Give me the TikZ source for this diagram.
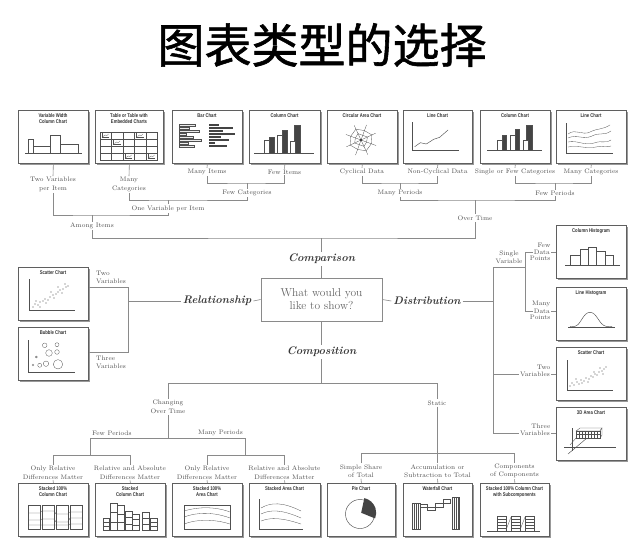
\documentclass[tikz,border=0pt]{standalone}
\usepackage{fontspec}
\newfontfamily\cjkfont{Noto Sans CJK SC}[FakeBold=1.2]
\newfontfamily\boxfont{Liberation Sans}[FakeStretch=0.78]
\usetikzlibrary{shadows}
\definecolor{ln}{HTML}{8A8A8A}
\definecolor{txt}{HTML}{505050}
\definecolor{catc}{HTML}{383838}
\definecolor{bx}{HTML}{5F5F5F}
\definecolor{ink}{HTML}{505050}
\definecolor{dk}{HTML}{444444}
\newcommand{\lblf}{\fontsize{6.5}{8.5}\selectfont}
\begin{document}
\begin{tikzpicture}[x=1pt,y=-1pt,
 conn/.style={draw=ln,line width=0.6pt},
 lbl/.style={font=\lblf,text=txt,inner sep=1pt,align=center},
 catlbl/.style={font=\fontsize{11}{13}\selectfont\bfseries\itshape,text=catc,inner sep=2pt},
 cbox/.style={draw=bx,line width=0.75pt,fill=white,minimum height=53,inner sep=0,anchor=north west,
   drop shadow={shadow xshift=1.5pt,shadow yshift=-1.5pt,fill=black!40,opacity=1}},
 btitle/.style={font=\boxfont\bfseries\fontsize{5.4}{6.6}\selectfont,text=black!80,align=center,inner sep=0,anchor=north},
 cl/.style={draw=ink,line width=0.45pt},
 thin/.style={draw=ink,line width=0.3pt},
]
\useasboundingbox[fill=white] (0,0) rectangle (642,543);

% title
\node[font=\cjkfont\fontsize{47}{47}\selectfont,text=black] (title) at (322,45) {图表类型的选择};

% ---------- boxes ----------
\node[cbox,minimum width=70] (B1) at (18,110) {};
\node[cbox,minimum width=68] (B2) at (95,110) {};
\node[cbox,minimum width=70] (B3) at (172,110) {};
\node[cbox,minimum width=71] (B4) at (249,110) {};
\node[cbox,minimum width=70] (B5) at (327,110) {};
\node[cbox,minimum width=69] (B6) at (403,110) {};
\node[cbox,minimum width=70] (B7) at (480,110) {};
\node[cbox,minimum width=70] (B8) at (556,110) {};
\node[cbox,minimum width=70] (S1) at (18,267) {};
\node[cbox,minimum width=70] (S2) at (18,327) {};
\node[cbox,minimum width=70] (H1) at (556,225) {};
\node[cbox,minimum width=70] (H2) at (556,287) {};
\node[cbox,minimum width=70] (H3) at (556,347) {};
\node[cbox,minimum width=70] (H4) at (556,407) {};
\node[cbox,minimum width=70] (C1) at (18,483) {};
\node[cbox,minimum width=70] (C2) at (95,483) {};
\node[cbox,minimum width=70] (C3) at (172,483) {};
\node[cbox,minimum width=71] (C4) at (249,483) {};
\node[cbox,minimum width=68] (C5) at (327,483) {};
\node[cbox,minimum width=69] (C6) at (403,483) {};
\node[cbox,minimum width=69] (C7) at (480,483) {};

% ---------- box contents ----------
\begin{scope}[shift={(B1.north west)}]
\node[btitle] (tB1) at (35,3) {Variable Width\\Column Chart};
\draw[cl] (7,43) -- (64,43);
\draw[cl] (10,43) -- (10,29) -- (15,29) -- (15,43);
\draw[cl] (15,36) -- (32,36) -- (32,25) -- (42,25) -- (42,34) -- (60,34) -- (60,43);
\draw[cl] (32,36) -- (32,43); \draw[cl] (42,34) -- (42,43);
\end{scope}

\begin{scope}[shift={(B2.north west)}]
\node[btitle] (tB2) at (34,3) {Table or Table with\\Embedded Charts};
\foreach \xx in {5,16.5,28,39.5,51,62.5} \draw[thin] (\xx,22) -- (\xx,50);
\foreach \yy in {22,29,36,43,50} \draw[thin] (5,\yy) -- (62.5,\yy);
\foreach \cx/\cy in {7/23,18.5/30,41.5/23,30/44,53/44}{
 \draw[draw=ink,line width=0.25pt] (\cx,\cy) -- (\cx,\cy+4.5) -- (\cx+7,\cy+4.5);
 \draw[draw=ink,line width=0.25pt] (\cx+1,\cy+3.5) -- (\cx+3,\cy+2) -- (\cx+5,\cy+2.5) -- (\cx+6.5,\cy+1);
}
\end{scope}

\begin{scope}[shift={(B3.north west)}]
\node[btitle] (tB3) at (35,3) {Bar Chart};
\foreach \i/\l in {0/16,1/10,2/20,3/7,4/14,5/22,6/9,7/15}
 \draw[thin,fill=gray!15] (7,14+\i*3) rectangle (7+\l,15.8+\i*3);
\foreach \i/\l in {0/10,1/24,2/14,3/26,4/12,5/20,6/6,7/18}
 \fill[dk] (37,14+\i*3) rectangle (37+\l,16.3+\i*3);
\end{scope}

\begin{scope}[shift={(B4.north west)}]
\node[btitle] (tB4) at (35.5,3) {Column Chart};
\draw[cl] (5,43) -- (65,43);
\draw[cl,fill=white] (15,30) rectangle (20,43); \draw[cl,fill=dk] (20,27) rectangle (25,43);
\draw[cl,fill=white] (28,25) rectangle (33,43); \draw[cl,fill=dk] (33,20) rectangle (38,43);
\draw[cl,fill=dk] (45,15) rectangle (51,43); \draw[cl,fill=white] (41,31) rectangle (46,43);
\end{scope}

\begin{scope}[shift={(B5.north west)}]
\node[btitle] (tB5) at (35,3) {Circular Area Chart};
\begin{scope}[shift={(34,30)}]
\foreach \a in {0,45,...,315} \draw[thin] (0,0) -- (\a+20:16);
\draw[thin] (20:6) -- (65:7) -- (110:5) -- (155:7) -- (200:6) -- (245:7) -- (290:5) -- (335:7) -- cycle;
\draw[thin] (20:11) -- (65:12) -- (110:10) -- (155:12) -- (200:11) -- (245:12) -- (290:10) -- (335:12) -- cycle;
\fill[dk] (-1.3,-1.3) rectangle (1.3,1.3);
\end{scope}
\end{scope}

\begin{scope}[shift={(B6.north west)}]
\node[btitle] (tB6) at (34.5,3) {Line Chart};
\draw[cl] (9,12) -- (9,40) -- (56,40);
\draw[cl] (11.7,36.7) -- (17.3,32.7) -- (23.3,34) -- (30.7,29.3) -- (36.7,27.3) -- (45,20);
\end{scope}

\begin{scope}[shift={(B7.north west)}]
\node[btitle] (tB7) at (35,3) {Column Chart};
\draw[cl] (7,40) -- (62,40);
\draw[cl,fill=white] (17.3,30) rectangle (22.3,40); \draw[cl,fill=dk] (22.3,25) rectangle (26.7,40);
\draw[cl,fill=white] (30,25) rectangle (35,40); \draw[cl,fill=dk] (35,19.3) rectangle (39.7,40);
\draw[cl,fill=dk] (46.7,15) rectangle (52.5,40); \draw[cl,fill=white] (43.5,30) rectangle (48.5,40);
\end{scope}

\begin{scope}[shift={(B8.north west)}]
\node[btitle] (tB8) at (35,3) {Line Chart};
\draw[cl] (10.7,13) -- (10.7,43) -- (57,43);
\draw[thin] (12,24) .. controls (20,18) and (26,26) .. (34,22) .. controls (42,18) and (46,20) .. (54,15);
\draw[thin] (12,28) .. controls (20,24) and (28,30) .. (36,26) .. controls (44,22) and (48,26) .. (55,21);
\draw[thin] (12,32) .. controls (22,30) and (28,36) .. (38,33) .. controls (46,30) and (50,34) .. (55,30);
\draw[thin] (12,37) .. controls (22,35) and (30,39) .. (40,37) .. controls (48,35) and (52,38) .. (55,36);
\end{scope}

\begin{scope}[shift={(S1.north west)}]
\node[btitle] (tS1) at (35,3) {Scatter Chart};
\draw[cl] (11.7,12) -- (11.7,43) -- (57,43);
\foreach \px/\py in {15/40,17/37,20/38,22/35,25/34,27/32,30/33,32/30,35/28,38/27,40/25,42/23,45/22,48/20,50/19,22/40,28/36,36/31,44/26,33/25,40/20,18/34,47/17}
 \fill[ink] (\px,\py) circle[radius=0.55];
\end{scope}

\begin{scope}[shift={(S2.north west)}]
\node[btitle] (tS2) at (35,3) {Bubble Chart};
\draw[cl] (10,13) -- (10,45) -- (57,45);
\draw[thin] (26.7,18.3) circle[radius=2.3];
\draw[thin] (39,17.7) circle[radius=2];
\draw[thin] (31,26) circle[radius=3.3];
\draw[thin] (39,25) circle[radius=2.3];
\draw[thin] (18.3,30) circle[radius=1];
\draw[thin] (15,38) circle[radius=1];
\draw[thin] (21.7,38.3) circle[radius=2];
\draw[thin] (28,36.7) circle[radius=2.7];
\draw[thin] (40,37.3) circle[radius=4.7];
\end{scope}

\begin{scope}[shift={(H1.north west)}]
\node[btitle] (tH1) at (35,3) {Column Histogram};
\draw[cl] (9,40) -- (64,40);
\draw[cl] (14.7,40) rectangle (24,30);
\draw[cl] (24,40) rectangle (32.3,24.3);
\draw[cl] (32.3,40) rectangle (40.7,22.3);
\draw[cl] (40.7,40) rectangle (49,26.7);
\draw[cl] (49,40) rectangle (57.3,30);
\end{scope}

\begin{scope}[shift={(H2.north west)}]
\node[btitle] (tH2) at (35,3) {Line Histogram};
\draw[cl] (12,40) -- (59,40);
\draw[cl] (14,39.6) -- (19,39.3) .. controls (25,38) and (27,25.3) .. (34,25.3) .. controls (41,25.3) and (43,38) .. (50,39.3) -- (56,39.6);
\end{scope}

\begin{scope}[shift={(H3.north west)}]
\node[btitle] (tH3) at (35,3) {Scatter Chart};
\draw[cl] (11.3,13) -- (11.3,43.3) -- (57,43.3);
\foreach \px/\py in {14/39,16/36,18/38,21/35,23/37,25/33,28/34,30/31,33/32,35/29,37/30,39/27,41/28,43/25,46/24,48/22,50/20,26/36,32/35,38/25,44/21,20/32,47/27}
 \fill[ink] (\px,\py) circle[radius=0.55];
\end{scope}

\begin{scope}[shift={(H4.north west)}]
\node[btitle] (tH4) at (35,3) {3D Area Chart};
\draw[cl] (8,40) -- (60,40);
\draw[cl] (12,47) -- (31,31);
\draw[cl] (16,21) -- (16,44);
\draw[thin,fill=white] (20,24) -- (24,21) -- (46,21) -- (44,24) -- cycle;
\draw[thin,fill=white] (44,24) -- (46,21) -- (46,28) -- (44,31) -- cycle;
\draw[thin,fill=white] (20,24) rectangle (44,31);
\foreach \gx in {23,26,...,41} \draw[draw=ink,line width=0.2pt] (\gx,24) -- (\gx,31);
\draw[draw=ink,line width=0.2pt] (20,27.5) -- (44,27.5);
\draw[thin] (14,38) -- (20,31);
\end{scope}

\begin{scope}[shift={(C1.north west)}]
\node[btitle] (tC1) at (35,3) {Stacked 100\%\\Column Chart};
\foreach \cx in {10,24,38,52} \draw[cl] (\cx,22) rectangle (\cx+12,46);
\draw[thin] (10,30) -- (22,30) -- (24,28) -- (36,28) -- (38,31) -- (50,31) -- (52,29) -- (64,29);
\draw[thin] (10,37) -- (22,37) -- (24,36) -- (36,36) -- (38,39) -- (50,39) -- (52,35) -- (64,35);
\draw[thin] (10,42) -- (22,42) -- (24,42) -- (36,42) -- (38,42) -- (50,42) -- (52,41) -- (64,41);
\end{scope}

\begin{scope}[shift={(C2.north west)}]
\node[btitle] (tC2) at (35,3) {Stacked\\Column Chart};
\foreach \a/\b/\t in {8/14/35,15/22/20,22/29/22,30/37/28,37/44/31,47/54/29,55/62/35}{
 \draw[thin] (\a,46.7) rectangle (\b,\t);
 \draw[thin] (\a,{\t+(46.7-\t)*0.35}) -- (\b,{\t+(46.7-\t)*0.35});
 \draw[thin] (\a,{\t+(46.7-\t)*0.7}) -- (\b,{\t+(46.7-\t)*0.7});
}
\end{scope}

\begin{scope}[shift={(C3.north west)}]
\node[btitle] (tC3) at (35,3) {Stacked 100\%\\Area Chart};
\draw[cl] (12,22) rectangle (58,46);
\draw[thin] (12,28) .. controls (25,24) and (42,23) .. (58,29);
\draw[thin] (12,34) .. controls (25,29) and (42,29) .. (58,35);
\draw[thin] (12,41) .. controls (25,36) and (42,36) .. (58,41);
\end{scope}

\begin{scope}[shift={(C4.north west)}]
\node[btitle] (tC4) at (35.5,3) {Stacked Area Chart};
\draw[cl] (10.7,16) -- (10.7,46) -- (54,46);
\draw[thin] (12,25) .. controls (22,19) and (34,19) .. (52,28);
\draw[thin] (12,31) .. controls (22,26) and (34,27) .. (52,35);
\draw[thin] (12,38) .. controls (22,34) and (34,35) .. (52,41);
\end{scope}

\begin{scope}[shift={(C5.north west)}]
\node[btitle] (tC5) at (34,3) {Pie Chart};
\draw[cl] (33,31) circle[radius=14.5];
\fill[dk] (34.2,29.8) -- ++(-78:15) arc[start angle=-78,end angle=22,radius=15] -- cycle;
\end{scope}

\begin{scope}[shift={(C6.north west)}]
\node[btitle] (tC6) at (34.5,3) {Waterfall Chart};
\draw[cl] (9,20) rectangle (17,46);
\foreach \hx in {11,13,15} \draw[draw=ink,line width=0.25pt] (\hx,20) -- (\hx,46);
\draw[thin] (17,21) rectangle (24,24);
\draw[thin] (24,24) rectangle (32,27);
\draw[thin] (32,20) rectangle (40,24);
\draw[thin] (40,16) rectangle (47,20);
\draw[cl] (49,14) rectangle (56.5,46);
\foreach \hx in {51,53,55} \draw[draw=ink,line width=0.25pt] (\hx,14) -- (\hx,46);
\end{scope}

\begin{scope}[shift={(C7.north west)}]
\node[btitle] (tC7) at (34.5,3) {Stacked 100\% Column Chart\\with Subcomponents};
\draw[cl] (7,48) -- (60,48);
\foreach \cx in {17,31,45}{
 \draw[thin] (\cx,33) rectangle (\cx+9,48);
 \foreach \hy in {36,39,42,45} \draw[draw=ink,line width=0.25pt] (\cx,\hy) -- (\cx+9,\hy);
}
\draw[thin] (26,47) -- (31,34); \draw[thin] (40,47) -- (45,34);
\end{scope}

% ---------- comparison labels ----------
\node[lbl] (L1) at (53,184.5) {Two Variables\\per Item};
\node[lbl] (L2) at (129,184.5) {Many\\Categories};
\node[lbl] (L3) at (207,172) {Many Items};
\node[lbl] (L4) at (284.5,172) {Few Items};
\node[lbl] (L5) at (362,172) {Cyclical Data};
\node[lbl] (L6) at (437.5,172) {Non-Cyclical Data};
\node[lbl] (L7) at (515,172) {Single or Few Categories};
\node[lbl] (L8) at (591,172) {Many Categories};
\node[lbl] (LFC) at (247,193) {Few Categories};
\node[lbl] (LOV) at (168,208.5) {One Variable per Item};
\node[lbl] (LAI) at (92,226) {Among Items};
\node[lbl] (LMP) at (400,193) {Many Periods};
\node[lbl] (LFP) at (555,193) {Few Periods};
\node[lbl] (LOT) at (475,218) {Over Time};

% ---------- centre ----------
\node[draw=ln,line width=0.7pt,minimum width=121,minimum height=43,font=\fontsize{11.5}{13}\selectfont,text=black!60,align=center] (Q) at (321.5,299.5) {What would you\\like to show?};
\node[catlbl] (LCmp) at (321.5,259) {Comparison};
\node[catlbl] (LRel) at (217,301) {Relationship};
\node[catlbl] (LDis) at (427,301) {Distribution};
\node[catlbl] (LCom) at (321.5,352) {Composition};

% ---------- comparison connectors ----------
\foreach \n in {1,...,8} \draw[conn] (B\n.south) -- (L\n.north);
\coordinate (j1) at (247,183);
\draw[conn] (L3.south) |- (j1) -| (L4.south); \draw[conn] (j1) -- (LFC.north);
\coordinate (j2) at (168,200);
\draw[conn] (L2.south) |- (j2) -| (LFC.south); \draw[conn] (j2) -- (LOV.north);
\coordinate (j3) at (92,215);
\draw[conn] (L1.south) |- (j3) -| (LOV.south); \draw[conn] (j3) -- (LAI.north);
\coordinate (j4) at (400,183);
\draw[conn] (L5.south) |- (j4) -| (L6.south); \draw[conn] (j4) -- (LMP.north);
\coordinate (j5) at (555,183);
\draw[conn] (L7.south) |- (j5) -| (L8.south); \draw[conn] (j5) -- (LFP.north);
\coordinate (j6) at (475,200);
\draw[conn] (LMP.south) |- (j6) -| (LFP.south); \draw[conn] (j6) -- (LOT.north);
\coordinate (j7) at (321.5,238);
\draw[conn] (LAI.south) |- (j7) -| (LOT.south); \draw[conn] (j7) -- (LCmp.north);
\draw[conn] (LCmp.south) -- (Q.north);

% ---------- relationship ----------
\draw[conn] (Q.west) -- (LRel.east);
\coordinate (r1) at (128,287); \coordinate (r2) at (128,352); \coordinate (rj) at (128,301);
\draw[conn] (LRel.west) -- (rj);
\draw[conn] (S1.east|-r1) -- (r1) -- (r2) -- (S2.east|-r2);
\node[lbl,anchor=west,align=left] (LR2) at (95,277.5) {Two\\Variables};
\node[lbl,anchor=west,align=left] (LR3) at (95,362.5) {Three\\Variables};

% ---------- distribution ----------
\draw[conn] (Q.east) -- (LDis.west);
\coordinate (d0) at (493,301); \coordinate (d1) at (493,267); \coordinate (d4) at (493,433);
\draw[conn] (LDis.east) -- (d0);
\draw[conn] (d1) -- (d4);
\coordinate (sv) at (525,267); \coordinate (sv1) at (525,252); \coordinate (sv2) at (525,311);
\draw[conn] (d1) -- (sv);
\draw[conn] (sv1) -- (sv2);
\node[lbl] (LSV) at (509,257.5) {Single\\Variable};
\node[lbl,anchor=east] (FD) at (551,252) {Data};
\node[lbl,anchor=south east,inner sep=0.5pt] (FD1) at (FD.north east) {Few};
\node[lbl,anchor=north east,inner sep=0.5pt] (FD2) at (FD.south east) {Points};
\draw[conn] (sv1) -- (FD.west); \draw[conn] (FD.east) -- (FD.east -| H1.west);
\node[lbl,anchor=east] (MD) at (551,311) {Data};
\node[lbl,anchor=south east,inner sep=0.5pt] (MD1) at (MD.north east) {Many};
\node[lbl,anchor=north east,inner sep=0.5pt] (MD2) at (MD.south east) {Points};
\draw[conn] (sv2) -- (MD.west); \draw[conn] (MD.east) -- (MD.east -| H2.west);
\node[lbl,anchor=east] (TV) at (551,374) {Variables};
\node[lbl,anchor=south east,inner sep=0.5pt] (TV1) at (TV.north east) {Two};
\draw[conn] (TV.west -| d1) -- (TV.west); \draw[conn] (TV.east) -- (TV.east -| H3.west);
\node[lbl,anchor=east] (ThV) at (551,433) {Variables};
\node[lbl,anchor=south east,inner sep=0.5pt] (ThV1) at (ThV.north east) {Three};
\draw[conn] (ThV.west -| d1) -- (ThV.west); \draw[conn] (ThV.east) -- (ThV.east -| H4.west);

% ---------- composition ----------
\draw[conn] (Q.south) -- (LCom.north);
\coordinate (c0) at (321.5,383); \coordinate (cL) at (168,383); \coordinate (cR) at (437,383);
\draw[conn] (LCom.south) -- (c0);
\draw[conn] (cL) -- (cR);
\node[lbl] (LCOT) at (168,407) {Changing\\Over Time};
\draw[conn] (cL) -- (LCOT.north);
\coordinate (t0) at (168,438); \coordinate (tf) at (90,438); \coordinate (tm) at (245,438);
\draw[conn] (LCOT.south) -- (t0);
\draw[conn] (tf) -- (tm);
\node[lbl,anchor=south west] (LFPc) at ([xshift=1pt,yshift=1pt]tf) {Few Periods};
\node[lbl,anchor=south east] (LMPc) at ([xshift=-1pt,yshift=1pt]tm) {Many Periods};
\node[lbl] (O1) at (53,472.5) {Only Relative\\Differences Matter};
\node[lbl] (R1) at (130,472.5) {Relative and Absolute\\Differences Matter};
\node[lbl] (O2) at (207,472.5) {Only Relative\\Differences Matter};
\node[lbl] (R2) at (284.5,472.5) {Relative and Absolute\\Differences Matter};
\coordinate (f1) at (90,455); \coordinate (m1) at (245,455);
\draw[conn] (tf) -- (f1); \draw[conn] (tm) -- (m1);
\draw[conn] (O1.north) -- (O1.north|-f1) -- (R1.north|-f1) -- (R1.north);
\draw[conn] (O2.north) -- (O2.north|-m1) -- (R2.north|-m1) -- (R2.north);
\draw[conn] (O1.south) -- (C1.north); \draw[conn] (R1.south) -- (C2.north);
\draw[conn] (O2.south) -- (C3.north); \draw[conn] (R2.south) -- (C4.north);

\node[lbl] (LST) at (437,403) {Static};
\draw[conn] (cR) -- (LST.north);
\coordinate (s0) at (437,453);
\draw[conn] (LST.south) -- (s0);
\node[lbl] (SS) at (361,471) {Simple Share\\of Total};
\node[lbl] (AS) at (437.5,471) {Accumulation or\\Subtraction to Total};
\node[lbl] (CC) at (514.5,471) {Components\\of Components};
\draw[conn] (SS.north) -- (SS.north|-s0) -- (CC.north|-s0) -- (CC.north);
\draw[conn] (AS.north|-s0) -- (AS.north);
\draw[conn] (SS.south) -- (C5.north); \draw[conn] (AS.south) -- (C6.north); \draw[conn] (CC.south) -- (C7.north);
\end{tikzpicture}
\end{document}
